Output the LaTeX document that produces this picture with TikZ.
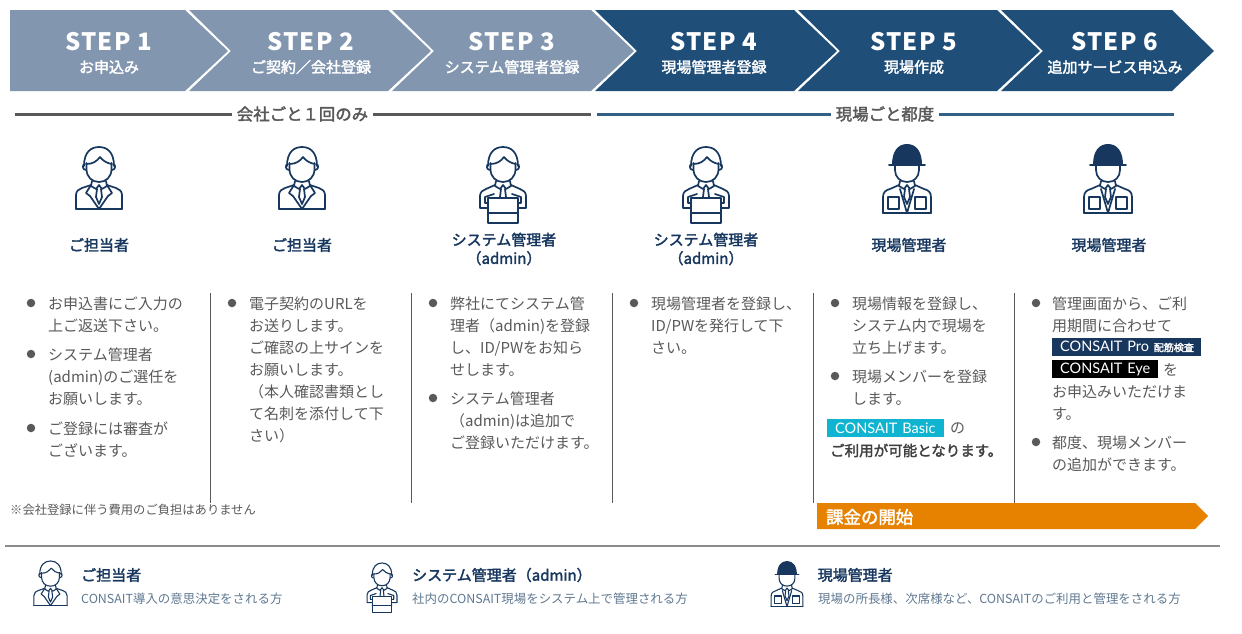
\documentclass[tikz,border=0pt]{standalone}
\usepackage{fontspec}
\setmainfont{Noto Sans CJK JP}
\newfontfamily\badgefont{Lato}
\newfontfamily\stepfont[LetterSpace=5]{Noto Sans CJK JP}
\newfontfamily\medfont[FakeBold=2.2]{Noto Sans CJK JP}
\usetikzlibrary{positioning}

\definecolor{steplight}{HTML}{8296AF}
\definecolor{stepdark}{HTML}{1F4E79}
\definecolor{navy}{HTML}{17375E}
\definecolor{bodygrey}{HTML}{595959}
\definecolor{descblue}{HTML}{5F7890}
\definecolor{orangebar}{HTML}{E78200}
\definecolor{badgecyan}{HTML}{10B4D0}

\newcommand{\iconlw}{1.7pt}
\newcommand{\headpart}{
  \draw[iconline] (-15,19) .. controls (-15,5) and (-8,0) .. (0,0) .. controls (8,0) and (15,5) .. (15,19);
  \draw[iconline] (-14,17) .. controls (-17,17) and (-17,23) .. (-13,23);
  \draw[iconline] (14,17) .. controls (17,17) and (17,23) .. (13,23);
  \draw[iconline] (-12.5,16) -- (-12.5,22) .. controls (-12.5,30) and (-7,35) .. (0,35) .. controls (7,35) and (12.5,30) .. (12.5,22) -- (12.5,16);
  \draw[iconline] (-12.5,17) .. controls (-6,17) and (-2,14) .. (1,10) .. controls (4,14) and (8,16) .. (12.5,17);
}
\newcommand{\tiepart}{
  \draw[iconline] (-7,34) -- (-8,39) -- (-3,42) -- (0,38) -- (3,42) -- (8,39) -- (7,34);
  \draw[iconline] (-2,42) -- (-3,50) -- (0,57) -- (3,50) -- (2,42);
}
\tikzset{
  iconline/.style={draw=navy,line width=\iconlw,line join=round,line cap=round},
  clerk/.pic={
    \headpart \tiepart
    \draw[iconline] (-23,62) -- (-23,48) .. controls (-23,44) and (-20,42) .. (-17,41) -- (-8,38);
    \draw[iconline] (23,62) -- (23,48) .. controls (23,44) and (20,42) .. (17,41) -- (8,38);
    \draw[iconline] (-23,62) -- (23,62);
    \draw[iconline] (-8,38) -- (-13,46) -- (-9,49) -- (0,62) -- (9,49) -- (13,46) -- (8,38);
  },
  sysadmin/.pic={
    \headpart \tiepart
    \draw[iconline] (-15,61) -- (-23,61) -- (-23,49) .. controls (-23,45) and (-20,43) .. (-17,42) -- (-8,38);
    \draw[iconline] (15,61) -- (23,61) -- (23,49) .. controls (23,45) and (20,43) .. (17,42) -- (8,38);
    \draw[iconline] (-15,56) -- (-18,56) -- (-18,50) -- (-9,47);
    \draw[iconline] (15,56) -- (18,56) -- (18,50) -- (9,47);
    \draw[iconline,fill=white] (-15,51) rectangle (15,76);
    \draw[iconline] (-15,66) -- (15,66);
  },
  foreman/.pic={
    \fill[navy] (-15,18) .. controls (-15,4) and (-9,-3) .. (0,-3) .. controls (9,-3) and (15,4) .. (15,18) -- cycle;
    \draw[iconline] (-18,18) -- (18,18);
    \draw[iconline] (-12,18) -- (-12,23) .. controls (-12,30) and (-7,35) .. (0,35) .. controls (7,35) and (12,30) .. (12,23) -- (12,18);
    \tiepart
    \draw[iconline] (-24,66) -- (-24,50) .. controls (-24,45) and (-21,43) .. (-17,42) -- (-8,38);
    \draw[iconline] (24,66) -- (24,50) .. controls (24,45) and (21,43) .. (17,42) -- (8,38);
    \draw[iconline] (-24,66) -- (24,66);
    \draw[iconline] (-7,42) -- (0,66) -- (7,42);
    \draw[iconline] (-19,50) rectangle (-8,62);
    \draw[iconline] (8,50) rectangle (19,62);
  },
  steptitle/.style={text=white,font=\stepfont\bfseries\fontsize{24}{26}\selectfont,inner sep=0pt},
  stepsub/.style={text=white,font=\medfont\fontsize{15}{17}\selectfont,inner sep=0pt},
  rolelabel/.style={text=navy,align=center,inner sep=0pt,font=\medfont\fontsize{15}{18.5}\selectfont},
  bodytext/.style={anchor=north west,align=left,inner sep=0pt,text=bodygrey,font=\fontsize{15}{22}\selectfont},
  bulletdot/.style={circle,fill=bodygrey,draw=none,inner sep=0pt,minimum size=8.5pt},
  spanlabel/.style={text=bodygrey,inner sep=0pt,inner xsep=5pt,font=\medfont\fontsize{16.4}{18}\selectfont},
  badge/.style={anchor=west,inner ysep=0pt,inner xsep=8pt,minimum height=18pt,align=left,text=white,font=\badgefont\fontsize{14.5}{15}\selectfont},
  legendtitle/.style={anchor=west,inner sep=0pt,text=navy,font=\medfont\fontsize{15}{17}\selectfont},
  legenddesc/.style={anchor=west,inner sep=0pt,text=descblue,font=\fontsize{12.45}{14}\selectfont},
}

\begin{document}
\begin{tikzpicture}[x=1pt,y=-1pt]
\useasboundingbox (0,0) rectangle (1242,633);

% banner
\fill[steplight] (10,10) -- (185,10) -- (228,51) -- (185,91) -- (10,91) -- cycle;
\foreach \xa/\col in {189/steplight,392/steplight,595/stepdark,798/stepdark}{
  \fill[\col] (\xa,10) -- (\xa+199,10) -- (\xa+242,51) -- (\xa+199,91) -- (\xa,91) -- (\xa+42,51) -- cycle;
}
\fill[stepdark] (1001,10) -- (1172,10) -- (1214,51) -- (1172,91) -- (1001,91) -- (1043,51) -- cycle;

\foreach \i/\xc in {1/108.5,2/310.5,3/511.5,4/713.5,5/913.5,6/1114.5}{
  \node[steptitle] (step\i) at (\xc,42) {STEP \i};
}
\foreach \i/\xc/\sub in {1/109/お申込み,2/311/ご契約／会社登録,3/512/システム管理者登録,4/714/現場管理者登録,5/914/現場作成,6/1115/追加サービス申込み}{
  \node[stepsub] (sub\i) at (\xc,67) {\sub};
}

% spans
\node[spanlabel] (once) at (302.5,114) {会社ごと１回のみ};
\node[spanlabel] (each) at (885,114) {現場ごと都度};
\coordinate (onceL) at (15,114);
\coordinate (onceR) at (591,114);
\coordinate (eachL) at (597,114);
\coordinate (eachR) at (1174,114);
\draw[bodygrey,line width=3pt] (onceL) -- (once.west);
\draw[bodygrey,line width=3pt] (once.east) -- (onceR);
\draw[stepdark!90,line width=3pt] (eachL) -- (each.west);
\draw[stepdark!90,line width=3pt] (each.east) -- (eachR);

% roles
\pic at (99,147) {clerk};
\pic at (302,147) {clerk};
\pic at (503,147) {sysadmin};
\pic at (706,147) {sysadmin};
\pic at (907,147) {foreman};
\pic at (1108,147) {foreman};
\node[rolelabel] (role1) at (99,245) {ご担当者};
\node[rolelabel] (role2) at (302,245) {ご担当者};
\node[rolelabel] (role3) at (504,249) {システム管理者\\（admin）};
\node[rolelabel] (role4) at (706,249) {システム管理者\\（admin）};
\node[rolelabel] (role5) at (909,245) {現場管理者};
\node[rolelabel] (role6) at (1109,245) {現場管理者};

% column rules
\foreach \xa in {210.5,411.5,612.5,813.5,1014.5}{
  \draw[bodygrey,line width=1pt] (\xa,293) -- (\xa,503);
}

% bullets
\foreach \xa/\ya in {31/303,31/354,31/428,232/303,433/303,433/398,634/303,835/303,835/376,1036/303,1036/442}{
  \node[bulletdot] at (\xa,\ya) {};
}

% column texts
\node[bodytext] (t1a) at (48,297) {お申込書にご入力の\\上ご返送下さい。};
\node[bodytext] (t1b) at (48,348) {システム管理者\\(admin)のご選任を\\お願いします。};
\node[bodytext] (t1c) at (48,422) {ご登録には審査が\\ございます。};
\node[bodytext] (t2a) at (249,297) {電子契約のURLを\\お送りします。\\ご確認の上サインを\\お願いします。\\（本人確認書類とし\\て名刺を添付して下\\さい）};
\node[bodytext] (t3a) at (450,297) {弊社にてシステム管\\理者（admin)を登録\\し、ID/PWをお知ら\\せします。};
\node[bodytext] (t3b) at (450,392) {システム管理者\\（admin)は追加で\\ご登録いただけます。};
\node[bodytext] (t4a) at (651,297) {現場管理者を登録し、\\ID/PWを発行して下\\さい。};
\node[bodytext] (t5a) at (852,297) {現場情報を登録し、\\システム内で現場を\\立ち上げます。};
\node[bodytext] (t5b) at (852,370) {現場メンバーを登録\\します。};
\node[badge,fill=badgecyan,text width=101pt] (basic) at (827,428) {\mbox{CONSAIT Basic}};
\node[bodytext,anchor=west] (t5c) at (950,428.5) {の};
\node[bodytext,anchor=west,text=black!75,font=\medfont\fontsize{14.5}{22}\selectfont] (t5d) at (830,450.5) {ご利用が可能となります。};
\node[bodytext] (t6a) at (1052,297) {管理画面から、ご利\\用期間に合わせて};
\node[badge,fill=navy,text width=133pt] (pro) at (1052,346.5) {\mbox{CONSAIT Pro {\medfont\fontsize{10}{11}\selectfont 配筋検査}}};
\node[badge,fill=black,text width=90pt] (eye) at (1052,369) {\mbox{CONSAIT Eye}};
\node[bodytext,anchor=west] (t6b) at (1163,369.5) {を};
\node[bodytext] (t6c) at (1052,385) {お申込みいただけま\\す。};
\node[bodytext] (t6d) at (1052,436) {都度、現場メンバー\\の追加ができます。};

\node[anchor=west,inner sep=0pt,text=bodygrey,font=\fontsize{12.3}{14}\selectfont] (note) at (10,510) {※会社登録に伴う費用のご負担はありません};

% billing bar
\fill[orangebar] (817,503) -- (1195,503) -- (1208,516) -- (1195,529) -- (817,529) -- cycle;
\node[anchor=west,inner sep=0pt,text=white,font=\medfont\fontsize{17.4}{19}\selectfont] (bill) at (826,517) {課金の開始};

% legend
\coordinate (ruleL) at (5,546);
\coordinate (ruleR) at (1220,546);
\draw[black!45,line width=1.6pt] (ruleL) -- (ruleR);
\renewcommand{\iconlw}{1.1pt}
\pic[scale=.72] at (50.5,561) {clerk};
\pic[scale=.65] at (382,563) {sysadmin};
\pic[scale=.66] at (787,563) {foreman};
\node[legendtitle] (lg1) at (81,575) {ご担当者};
\node[legenddesc] (ld1) at (81,599) {CONSAIT導入の意思決定をされる方};
\node[legendtitle] (lg2) at (412,575) {システム管理者（admin）};
\node[legenddesc] (ld2) at (412,599) {社内のCONSAIT現場をシステム上で管理される方};
\node[legendtitle] (lg3) at (817.5,575) {現場管理者};
\node[legenddesc] (ld3) at (818,599) {現場の所長様、次席様など、CONSAITのご利用と管理をされる方};
\end{tikzpicture}
\end{document}
